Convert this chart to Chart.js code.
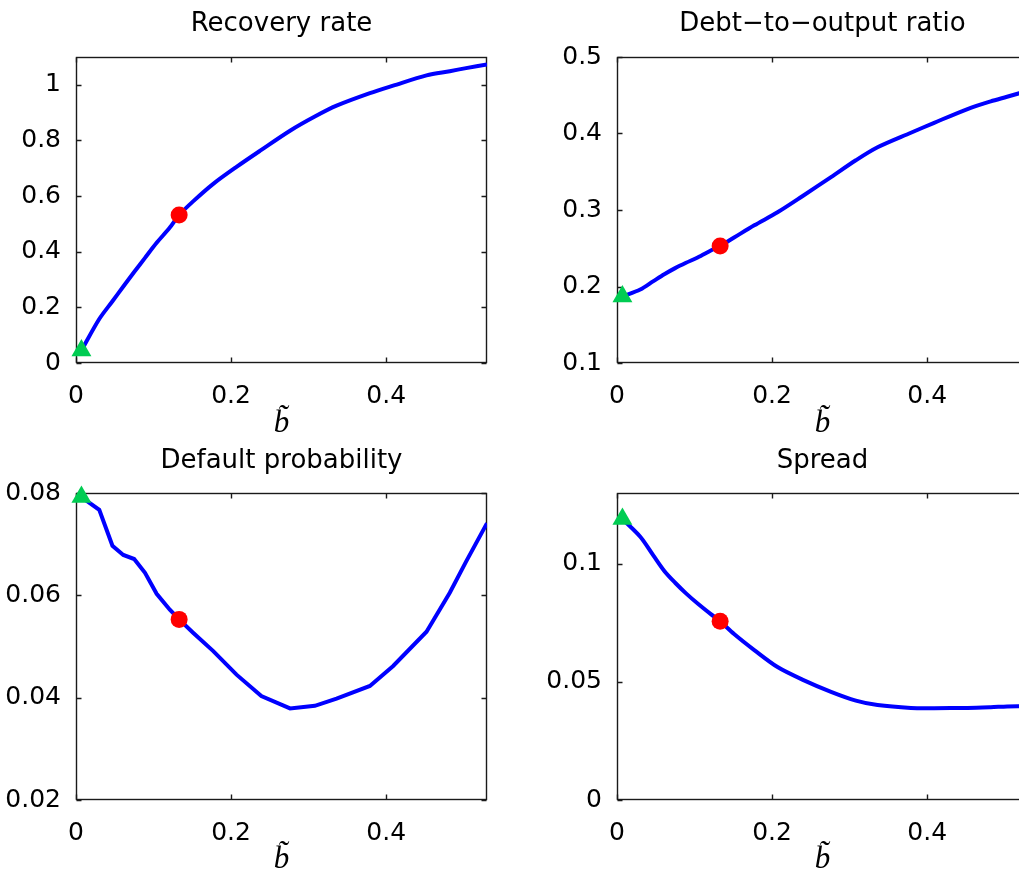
<!DOCTYPE html>
<html>
<head>
<meta charset="utf-8">
<title>Recovery, debt, default and spread vs b</title>
<script src="https://cdn.jsdelivr.net/npm/chart.js@4.4.1/dist/chart.umd.min.js"></script>
<style>
  html, body { margin: 0; padding: 0; background: #fff; }
  body { position: relative; width: 1019px; height: 876px; overflow: hidden; }
  canvas { position: absolute; }
</style>
</head>
<body>
<canvas id="recovery" width="500" height="440" style="left:0;top:0"></canvas>
<canvas id="debt" width="501" height="440" style="left:540px;top:0"></canvas>
<canvas id="default" width="500" height="439" style="left:0;top:437px"></canvas>
<canvas id="spread" width="501" height="439" style="left:540px;top:437px"></canvas>
<script>
// ---- data ----
const bGrid = [0.007, 0.03, 0.047, 0.061, 0.075, 0.089, 0.104, 0.121, 0.133, 0.151, 0.177,
  0.207, 0.239, 0.276, 0.308, 0.336, 0.379, 0.409, 0.452, 0.482, 0.503, 0.53];
const recoveryRate = [0.045, 0.158, 0.222, 0.275, 0.327, 0.378, 0.432, 0.487, 0.532, 0.581, 0.644,
  0.705, 0.766, 0.835, 0.886, 0.925, 0.97, 0.997, 1.034, 1.049, 1.06, 1.073];
const debtToOutput = [0.187, 0.196, 0.207, 0.216, 0.224, 0.231, 0.238, 0.247, 0.253, 0.264, 0.28,
  0.297, 0.318, 0.343, 0.365, 0.382, 0.401, 0.414, 0.432, 0.442, 0.448, 0.456];
const defaultProb = [0.0792, 0.0767, 0.0697, 0.0679, 0.0671, 0.0644, 0.0603, 0.0572, 0.0553, 0.0527, 0.0491,
  0.0445, 0.0403, 0.0379, 0.0384, 0.0398, 0.0423, 0.0462, 0.0529, 0.0605, 0.0666, 0.0741];
const spread = [0.119, 0.1115, 0.1035, 0.097, 0.092, 0.0875, 0.0832, 0.0787, 0.0757, 0.0703, 0.0635,
  0.0563, 0.051, 0.0458, 0.0421, 0.0402, 0.039, 0.0389, 0.039, 0.0393, 0.0396, 0.0398];

const startIdx = 0;   // green triangle
const calibIdx = 8;   // red dot

const xTicks = [0, 0.2, 0.4];
const recoveryTicks = [0, 0.2, 0.4, 0.6, 0.8, 1];
const debtTicks = [0.1, 0.2, 0.3, 0.4, 0.5];
const defaultTicks = [0.02, 0.04, 0.06, 0.08];
const spreadTicks = [0, 0.05, 0.1];

// ---- matlab-ish box with inward ticks ----
const matlabBox = {
  id: "matlabBox",
  beforeDatasetsDraw(chart) {
    const { ctx, chartArea: a, scales } = chart;
    const L = Math.round(a.left) + 0.5, R = Math.round(a.right) - 0.5;
    const T = Math.round(a.top) + 0.5, B = Math.round(a.bottom) - 0.5;
    ctx.save();
    ctx.strokeStyle = "#1a1a1a";
    ctx.lineWidth = 1.4;
    ctx.strokeRect(L, T, R - L, B - T);
    ctx.beginPath();
    scales.x.ticks.forEach(t => {
      const px = Math.round(scales.x.getPixelForValue(t.value)) + 0.5;
      ctx.moveTo(px, B); ctx.lineTo(px, B - 5);
      ctx.moveTo(px, T); ctx.lineTo(px, T + 5);
    });
    scales.y.ticks.forEach(t => {
      const py = Math.round(scales.y.getPixelForValue(t.value)) + 0.5;
      ctx.moveTo(L, py); ctx.lineTo(L + 5, py);
      ctx.moveTo(R, py); ctx.lineTo(R - 5, py);
    });
    ctx.stroke();
    ctx.restore();
  }
};

const fmt = v => String(+v.toFixed(3));

function makeChart(id, title, ys, yTicks, yMin, yMax, opts) {
  const pts = bGrid.map((b, i) => ({ x: b, y: ys[i] }));
  new Chart(document.getElementById(id), {
    type: "scatter",
    data: {
      datasets: [
        {
          data: [pts[startIdx]], order: 1, clip: false,
          pointStyle: "triangle", pointRadius: 11.5,
          backgroundColor: "rgb(0,204,82)", borderWidth: 0
        },
        {
          data: [pts[calibIdx]], order: 2, clip: false,
          pointStyle: "circle", pointRadius: 8.5,
          backgroundColor: "#ff0000", borderWidth: 0
        },
        {
          data: pts, order: 3, showLine: true,
          borderColor: "#0000ff", borderWidth: 4,
          pointRadius: 0, tension: opts.tension
        }
      ]
    },
    options: {
      responsive: false,
      animation: false,
      events: [],
      layout: { padding: { left: 0, right: 13, top: 0, bottom: 0 } },
      plugins: {
        legend: { display: false },
        tooltip: { enabled: false },
        title: {
          display: true, text: title, fullSize: false, color: "#000",
          font: { family: "'DejaVu Sans'", size: 26, weight: "normal", lineHeight: 1 },
          padding: { top: 11, bottom: opts.titleBottom }
        }
      },
      scales: {
        x: {
          type: "linear", min: 0, max: 0.53,
          grid: { display: false }, border: { display: false },
          afterBuildTicks: s => { s.ticks = xTicks.map(v => ({ value: v })); },
          afterFit: s => { s.height = opts.xHeight; },
          ticks: {
            color: "#000", padding: 13, includeBounds: false, callback: fmt,
            font: { family: "'DejaVu Sans'", size: 25, lineHeight: 1 }
          },
          title: {
            display: true, text: "b\u0303", color: "#000", padding: { top: 0, bottom: 1 },
            font: { family: "'Liberation Serif'", style: "italic", size: 31, lineHeight: 1 }
          }
        },
        y: {
          type: "linear", min: yMin, max: yMax,
          grid: { display: false }, border: { display: false },
          afterBuildTicks: s => { s.ticks = yTicks.map(v => ({ value: v })); },
          afterFit: s => { s.width = opts.yWidth; },
          ticks: {
            color: "#000", padding: 7, includeBounds: false, callback: fmt,
            font: { family: "'DejaVu Sans'", size: 25, lineHeight: 1 }
          }
        }
      }
    },
    plugins: [matlabBox]
  });
}

makeChart("recovery", "Recovery rate", recoveryRate, recoveryTicks, 0, 1.1,
  { tension: 0.3, yWidth: 76, xHeight: 77, titleBottom: 20 });
makeChart("debt", "Debt\u2212to\u2212output ratio", debtToOutput, debtTicks, 0.1, 0.5,
  { tension: 0.3, yWidth: 77, xHeight: 77, titleBottom: 20 });
makeChart("default", "Default probability", defaultProb, defaultTicks, 0.02, 0.08,
  { tension: 0, yWidth: 76, xHeight: 76, titleBottom: 19 });
makeChart("spread", "Spread", spread, spreadTicks, 0, 0.13,
  { tension: 0.3, yWidth: 77, xHeight: 76, titleBottom: 19 });
</script>
</body>
</html>
